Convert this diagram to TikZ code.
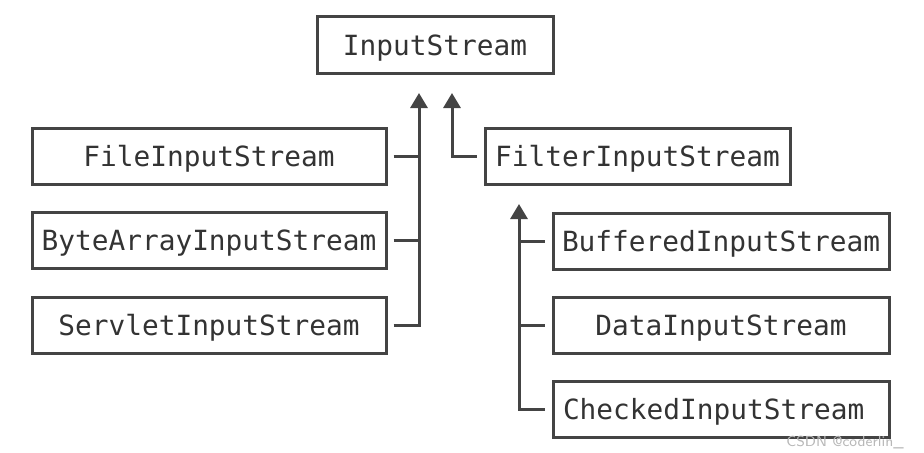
\documentclass[tikz,border=0pt]{standalone}
\usepackage{fontspec}
\setmonofont{DejaVu Sans Mono}
\usetikzlibrary{arrows.meta}
\definecolor{linegray}{HTML}{444444}
\definecolor{textgray}{HTML}{333333}

\begin{document}
\begin{tikzpicture}[x=0.5pt, y=-0.5pt,
  cls/.style={draw=linegray, line width=1.5pt, minimum height=28pt, inner sep=0pt,
    text height=10pt, text depth=0pt, text=textgray,
    font=\ttfamily\fontsize{13.9}{16}\selectfont},
  link/.style={draw=linegray, line width=1.5pt},
  inherit/.style={link, -{Triangle[width=8.5pt,length=7.5pt]}}]

% Fix the picture size
\useasboundingbox (0,0) rectangle (924,452);

% Draw the base class
\node[cls, minimum width=118pt, minimum height=28.5pt] (input) at (435,45) {InputStream};

% Draw the left subclasses
\node[cls, minimum width=177pt] (file) at (209,156.5) {FileInputStream};
\node[cls, minimum width=177pt] (bytes) at (209,240.5) {ByteArrayInputStream};
\node[cls, minimum width=177pt] (servlet) at (209,325) {ServletInputStream};

% Draw the filter branch
\node[cls, minimum width=152.5pt] (filter) at (637.5,156.5) {FilterInputStream};
\node[cls, minimum width=168pt] (buffered) at (721,241) {BufferedInputStream};
\node[cls, minimum width=168pt] (data) at (721,325) {DataInputStream};
\node[cls, text width=158pt, inner xsep=5pt, align=left] (checked) at (721,409.5) {CheckedInputStream};

% Arrow tips
\coordinate (tipA) at (419,93);
\coordinate (tipB) at (452,93);
\coordinate (tipC) at (519,204);

% Draw the connectors
\draw[inherit] ([xshift=3pt]servlet.east) -| (tipA);
\draw[link] ([xshift=3pt]file.east) -- (file.east -| tipA);
\draw[link] ([xshift=3pt]bytes.east) -- (bytes.east -| tipA);
\draw[inherit] ([xshift=-3.5pt]filter.west) -| (tipB);
\draw[inherit] ([xshift=-3.5pt]checked.west) -| (tipC);
\draw[link] ([xshift=-3.5pt]buffered.west) -- (buffered.west -| tipC);
\draw[link] ([xshift=-3.5pt]data.west) -- (data.west -| tipC);

% Watermark
\node[anchor=east, inner sep=0pt, text=black!28, font=\sffamily\fontsize{7.3}{8}\selectfont]
  (mark) at (904,442) {CSDN @coderlin\_};

\end{tikzpicture}
\end{document}
